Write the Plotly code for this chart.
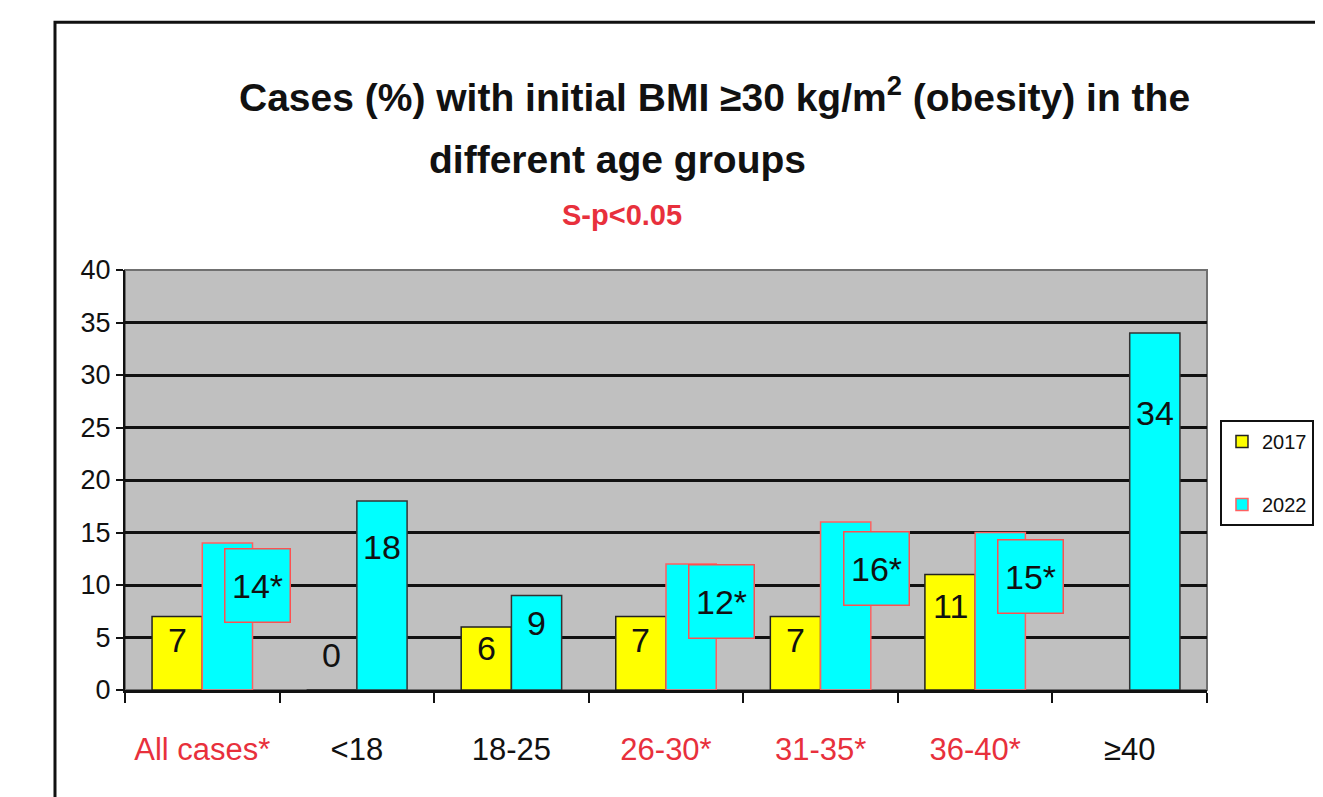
import plotly.graph_objects as go

categories = ["All cases*", "<18", "18-25", "26-30*", "31-35*", "36-40*", "≥40"]
values_2017 = [7, 0, 6, 7, 7, 11, None]
values_2022 = [14, 18, 9, 12, 16, 15, 34]
significant = [True, False, False, True, True, True, False]
y_ticks = [0, 5, 10, 15, 20, 25, 30, 35, 40]

FONT = "Liberation Sans, Arial, sans-serif"
RED = "#e8303c"
BARGAP = 0.35
half = (1 - BARGAP) / 4  # center offset of each bar inside its group


def label_y(v):
    return max(0.8 * v - 0.8, 3.3)


fig = go.Figure()
fig.add_trace(go.Bar(
    x=categories, y=values_2017, name="2017", legendgroup="a",
    marker=dict(color="#ffff00", line=dict(color="#222222", width=1.5)),
))
fig.add_trace(go.Bar(
    x=categories, y=values_2022, name="2022", legendgroup="b",
    marker=dict(color="#00ffff",
                line=dict(color=["#ff6060" if s else "#333333" for s in significant], width=1.5)),
))

annotations = []
for i, (v17, v22, sig) in enumerate(zip(values_2017, values_2022, significant)):
    if v17 is not None:
        annotations.append(dict(x=i - half, y=label_y(v17), xref="x", yref="y", text=str(v17),
                                showarrow=False, font=dict(family=FONT, size=34, color="#111111")))
    if sig:
        annotations.append(dict(x=i + 0.36, y=label_y(v22) - 0.4, xref="x", yref="y", text=f"{v22}*",
                                showarrow=False, bgcolor="#00ffff", bordercolor="#ff5050",
                                borderwidth=1.5, width=62, height=70,
                                font=dict(family=FONT, size=34, color="#111111")))
    else:
        annotations.append(dict(x=i + half, y=label_y(v22), xref="x", yref="y", text=str(v22),
                                showarrow=False, font=dict(family=FONT, size=34, color="#111111")))

# titles
annotations.append(dict(x=0.545, y=1.417, xref="paper", yref="paper", showarrow=False,
                        xanchor="center", yanchor="middle",
                        text="<b>Cases (%) with initial BMI ≥30 kg/m<sup>2</sup> (obesity) in the</b>",
                        font=dict(family=FONT, size=39, color="#111111")))
annotations.append(dict(x=0.455, y=1.262, xref="paper", yref="paper", showarrow=False,
                        xanchor="center", yanchor="middle",
                        text="<b>different age groups</b>",
                        font=dict(family=FONT, size=39, color="#111111")))
annotations.append(dict(x=0.459, y=1.131, xref="paper", yref="paper", showarrow=False,
                        xanchor="center", yanchor="middle",
                        text="<b>S-p<0.05</b>",
                        font=dict(family=FONT, size=29, color=RED)))

ticktext = [f"<span style='color:{RED}'>{c}</span>" if s else c
            for c, s in zip(categories, significant)]

fig.update_layout(
    width=1323, height=797,
    margin=dict(l=117, r=124, t=262, b=115, autoexpand=False),
    paper_bgcolor="white", plot_bgcolor="#c0c0c0",
    barmode="group", bargap=BARGAP, bargroupgap=0,
    showlegend=True,
    legend=dict(x=1.012, y=0.643, xanchor="left", yanchor="top",
                bordercolor="#111111", borderwidth=2, bgcolor="white",
                font=dict(family=FONT, size=20, color="#111111"),
                traceorder="grouped", tracegroupgap=34, itemwidth=30),
    annotations=annotations,
    shapes=[
        dict(type="rect", xref="paper", yref="paper", x0=-0.0647, x1=1.3, y0=-0.5, y1=1.590,
             line=dict(color="#111111", width=3), fillcolor="rgba(0,0,0,0)"),
        dict(type="rect", xref="paper", yref="paper", x0=0, x1=1, y0=0, y1=1,
             line=dict(color="#707070", width=2), fillcolor="rgba(0,0,0,0)", layer="below"),
    ],
)
fig.update_xaxes(
    tickvals=categories, ticktext=ticktext, tickson="boundaries", tickangle=0,
    ticks="outside", ticklen=10, tickwidth=2, tickcolor="#111111",
    showline=True, linecolor="#111111", linewidth=3, automargin=False,
    ticklabelstandoff=30,
    tickfont=dict(family=FONT, size=31, color="#111111"),
    showgrid=False,
)
fig.update_yaxes(
    range=[0, 40], tickvals=y_ticks, ticks="outside", ticklen=7, tickwidth=2,
    tickcolor="#111111", showline=True, linecolor="#111111", linewidth=2,
    showgrid=True, gridcolor="#111111", gridwidth=3, automargin=False,
    tickfont=dict(family=FONT, size=27, color="#111111"),
    zeroline=False,
)

fig.write_html("out.html")
